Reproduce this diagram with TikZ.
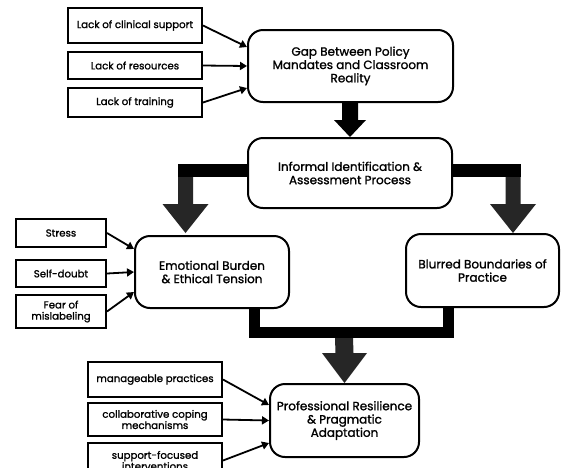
\documentclass[tikz,border=0pt]{standalone}
\usepackage{fontspec}
\setmainfont{Poppins}[FakeBold=1.3]
\usetikzlibrary{arrows.meta,calc}
\definecolor{shaftgray}{HTML}{262626}
\newcommand\fatarrow[6]{% color, top, tip, shaft half, head half, head length
  \fill[#1] ($(#2)+(-#4,0)$) -- ($(#3)+(-#4,-#6)$) -- ($(#3)+(-#5,-#6)$) -- (#3)
    -- ($(#3)+(#5,-#6)$) -- ($(#3)+(#4,-#6)$) -- ($(#2)+(#4,0)$) -- cycle;}
\tikzset{
  mainbox/.style={draw, line width=2pt, rounded corners=15pt, fill=white, align=center,
    font=\fontsize{12}{13.3}\selectfont, inner sep=0pt},
  smallbox/.style={draw, line width=2pt, fill=white, align=center,
    font=\fontsize{10.2}{11.2}\selectfont, inner sep=0pt},
  feeder/.style={line width=1.8pt, -{Triangle[length=7pt,width=8pt]}},
  barline/.style={line width=13pt, line cap=butt},
  ubar/.style={line width=11pt, line cap=butt, line join=miter},
}
\begin{document}
\begin{tikzpicture}[x=1pt,y=-1pt]
\clip (0,0) rectangle (561,467);
\fill[white] (0,0) rectangle (561,467);
% main boxes
\node[mainbox, minimum width=205pt, minimum height=72pt] (gap) at (350.5,66) {Gap Between Policy\\Mandates and Classroom\\Reality};
\node[mainbox, minimum width=204pt, minimum height=70pt] (inf) at (350,173) {Informal Identification \&\\Assessment Process};
\node[mainbox, minimum width=154pt, minimum height=72pt] (emo) at (212,272) {Emotional Burden\\\& Ethical Tension};
\node[mainbox, minimum width=153pt, minimum height=73pt] (blur) at (482.5,270.5) {Blurred Boundaries of\\Practice};
\node[mainbox, minimum width=149pt, minimum height=73pt] (prof) at (344.5,420.5) {Professional Resilience\\\& Pragmatic\\Adaptation};
% small boxes
\node[smallbox, minimum width=134pt, minimum height=35pt] (a1) at (135,25.5) {Lack of clinical support};
\node[smallbox, minimum width=134pt, minimum height=27pt] (a2) at (135,65.5) {Lack of resources};
\node[smallbox, minimum width=134pt, minimum height=29pt] (a3) at (135,102.5) {Lack of training};
\node[smallbox, minimum width=90pt, minimum height=28pt] (s1) at (61,233) {Stress};
\node[smallbox, minimum width=90pt, minimum height=27pt] (s2) at (61,273.5) {Self-doubt};
\node[smallbox, minimum width=90pt, minimum height=33pt] (s3) at (61,311.5) {Fear of\\mislabeling};
\node[smallbox, minimum width=134pt, minimum height=35pt] (b1) at (155,379.5) {manageable practices};
\node[smallbox, minimum width=134pt, minimum height=33pt] (b2) at (155,419.5) {collaborative coping\\mechanisms};
\node[smallbox, minimum width=134pt, minimum height=35pt] (b3) at (155,460.5) {support-focused\\interventions};
% feeder arrows
\draw[feeder] (a1.east) -- ([yshift=19pt]gap.west);
\draw[feeder] (a2.east) -- (gap.west);
\draw[feeder] (a3.east) -- ([yshift=-22pt]gap.west);
\draw[feeder] (s1.east) -- ([yshift=23pt]emo.west);
\draw[feeder] (s2.east) -- (emo.west);
\draw[feeder] (s3.east) -- ([yshift=-20pt]emo.west);
\draw[feeder] (b1.east) -- ([yshift=15.5pt]prof.west);
\draw[feeder] (b2.east) -- (prof.west);
\draw[feeder] (b3.east) -- ([yshift=-22.5pt]prof.west);
% flow arrows
\coordinate (gtop) at (350,102);
\coordinate (gtip) at (350,137);
\fatarrow{black}{gtop}{gtip}{8}{16}{17}
\coordinate (lc) at (185.5,170.5);
\coordinate (ltip) at (185.5,233);
\coordinate (lbar) at (178,170.5);
\coordinate (rc) at (513,170.5);
\coordinate (rtip) at (513,233);
\coordinate (rbar) at (520.5,170.5);
\fatarrow{shaftgray}{lc}{ltip}{7.5}{23}{29}
\fatarrow{shaftgray}{rc}{rtip}{7.5}{23}{29}
\draw[barline] ([yshift=2.5pt]inf.west) -- (lbar);
\draw[barline] ([yshift=2.5pt]inf.east) -- (rbar);
\coordinate (u1) at (254,332.5);
\coordinate (u2) at (448,332.5);
\draw[ubar] (emo.south -| u1) -- (u1) -- (u2) -- (blur.south -| u2);
\coordinate (btop) at (344,338);
\fatarrow{shaftgray}{btop}{prof.north}{9}{22.5}{30}
\end{tikzpicture}
\end{document}
